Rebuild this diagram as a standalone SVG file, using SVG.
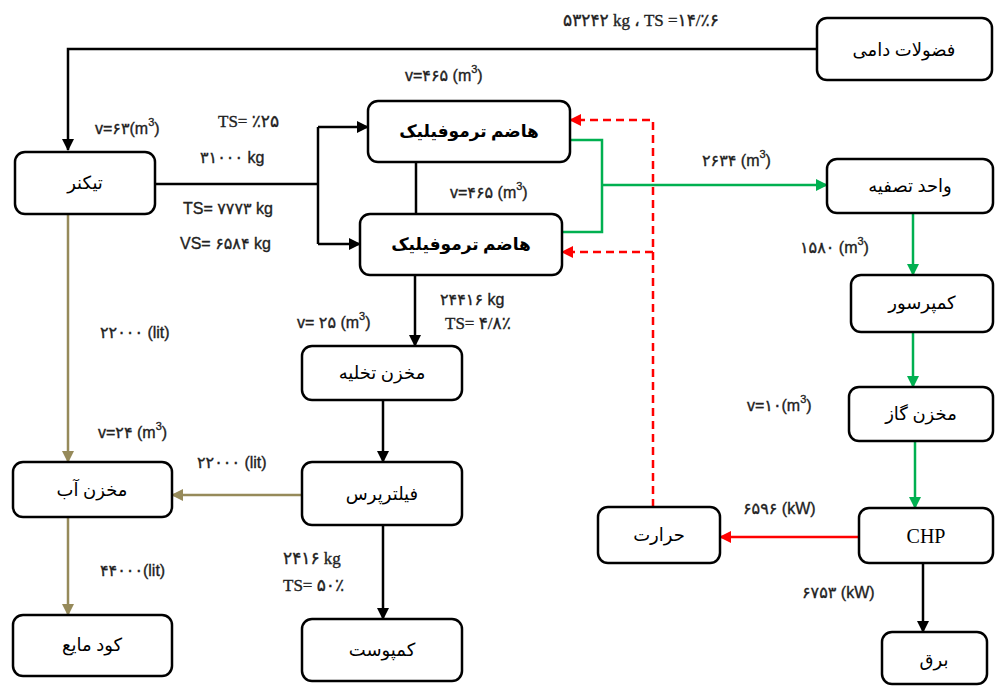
<svg xmlns="http://www.w3.org/2000/svg" width="995" height="686" viewBox="0 0 995 686">
<style>
.box{fill:#fff;stroke:#000;stroke-width:2.5}
.nt{font-family:"Liberation Serif","DejaVu Sans",serif;font-size:18px;text-anchor:middle;dominant-baseline:central;fill:#000}
.nb{font-weight:bold;font-size:17px}
.lb{font-family:"Liberation Sans","DejaVu Sans",sans-serif;font-size:16px;fill:#222;stroke:#222;stroke-width:0.35;dominant-baseline:central}
.ls{font-family:"Liberation Serif","DejaVu Sans",serif;font-size:17px;fill:#222;stroke:#222;stroke-width:0.35;dominant-baseline:central}
.sup{font-size:11px;baseline-shift:6px}
.k{fill:none;stroke:#000;stroke-width:2.5}
.o{fill:none;stroke:#968a5a;stroke-width:2.5}
.g{fill:none;stroke:#00b050;stroke-width:2.5}
.r{fill:none;stroke:#ff0000;stroke-width:2.5}
.rd{fill:none;stroke:#ff0000;stroke-width:2.5;stroke-dasharray:8,5}
</style>
<defs>
<marker id="ak" markerUnits="userSpaceOnUse" markerWidth="12" markerHeight="12" refX="11" refY="6" orient="auto"><path d="M0,0 L12,6 L0,12 z" fill="#000"/></marker>
<marker id="ao" markerUnits="userSpaceOnUse" markerWidth="12" markerHeight="12" refX="11" refY="6" orient="auto"><path d="M0,0 L12,6 L0,12 z" fill="#968a5a"/></marker>
<marker id="ag" markerUnits="userSpaceOnUse" markerWidth="12" markerHeight="12" refX="11" refY="6" orient="auto"><path d="M0,0 L12,6 L0,12 z" fill="#00b050"/></marker>
<marker id="ar" markerUnits="userSpaceOnUse" markerWidth="12" markerHeight="12" refX="11" refY="6" orient="auto"><path d="M0,0 L12,6 L0,12 z" fill="#ff0000"/></marker>
</defs>
<rect width="995" height="686" fill="#fff"/>
<g id="connectors">
<path class="k" d="M817,49 H68 V150" marker-end="url(#ak)"/>
<path class="k" d="M155,184 H318"/>
<path class="k" d="M318,127 V244"/>
<path class="k" d="M318,127 H368" marker-end="url(#ak)"/>
<path class="k" d="M318,244 H360" marker-end="url(#ak)"/>
<path class="k" d="M416,162 V214"/>
<path class="k" d="M415,275 V346" marker-end="url(#ak)"/>
<path class="k" d="M383,400 V462" marker-end="url(#ak)"/>
<path class="k" d="M383,525 V619" marker-end="url(#ak)"/>
<path class="o" d="M302,495 H172" marker-end="url(#ao)"/>
<path class="o" d="M68,214 V462" marker-end="url(#ao)"/>
<path class="o" d="M68,517 V615" marker-end="url(#ao)"/>
<path class="g" d="M570,140 H602 V232 H562"/>
<path class="g" d="M602,185 H827" marker-end="url(#ag)"/>
<path class="g" d="M913,213 V275" marker-end="url(#ag)"/>
<path class="g" d="M913,332 V387" marker-end="url(#ag)"/>
<path class="g" d="M915,441 V508" marker-end="url(#ag)"/>
<path class="r" d="M859,537 H720" marker-end="url(#ar)"/>
<path class="k" d="M923,563 V632" marker-end="url(#ak)"/>
<path class="rd" d="M653,507 V120 H570" marker-end="url(#ar)"/>
<path class="rd" d="M653,252 H562" marker-end="url(#ar)"/>
</g>
<g id="n_fazolat"><rect class="box" x="817" y="18" width="175" height="62" rx="10"/><text class="nt" x="904" y="50">فضولات دامی</text></g>
<g id="n_thickener"><rect class="box" x="15" y="152" width="140" height="62" rx="10"/><text class="nt" x="85" y="183">تیکنر</text></g>
<g id="n_digester1"><rect class="box" x="368" y="101" width="202" height="61" rx="10"/><text class="nt nb" x="469" y="131">هاضم ترموفیلیک</text></g>
<g id="n_digester2"><rect class="box" x="360" y="214" width="202" height="61" rx="10"/><text class="nt nb" x="461" y="244">هاضم ترموفیلیک</text></g>
<g id="n_tasfie"><rect class="box" x="827" y="159" width="166" height="54" rx="10"/><text class="nt" x="910" y="186">واحد تصفیه</text></g>
<g id="n_compressor"><rect class="box" x="851" y="275" width="142" height="57" rx="10"/><text class="nt" x="922" y="303">کمپرسور</text></g>
<g id="n_gas"><rect class="box" x="849" y="387" width="144" height="54" rx="10"/><text class="nt" x="921" y="414">مخزن گاز</text></g>
<g id="n_chp"><rect class="box" x="859" y="508" width="134" height="55" rx="10"/><text class="nt" x="926" y="536" style="font-size:20px">CHP</text></g>
<g id="n_heat"><rect class="box" x="598" y="507" width="122" height="56" rx="10"/><text class="nt" x="659" y="535">حرارت</text></g>
<g id="n_barq"><rect class="box" x="882" y="632" width="105" height="52" rx="10"/><text class="nt" x="934" y="660">برق</text></g>
<g id="n_takhlie"><rect class="box" x="302" y="346" width="160" height="54" rx="10"/><text class="nt" x="382" y="373">مخزن تخلیه</text></g>
<g id="n_filter"><rect class="box" x="302" y="462" width="160" height="63" rx="10"/><text class="nt" x="382" y="494">فیلترپرس</text></g>
<g id="n_water"><rect class="box" x="13" y="462" width="159" height="55" rx="10"/><text class="nt" x="92" y="490">مخزن آب</text></g>
<g id="n_kood"><rect class="box" x="13" y="615" width="159" height="61" rx="10"/><text class="nt" x="92" y="645">کود مایع</text></g>
<g id="n_compost"><rect class="box" x="302" y="619" width="160" height="62" rx="10"/><text class="nt" x="382" y="650">کمپوست</text></g>
<g id="labels">
<text class="ls" x="563" y="20">۵۳۲۴۲ kg ، TS =۱۴/٪۶</text>
<text class="lb" x="95" y="128">v=۶۳(m<tspan class="sup">3</tspan>)</text>
<text class="ls" x="218" y="121">TS= ٪۲۵</text>
<text class="lb" x="200" y="157">۳۱۰۰۰ kg</text>
<text class="lb" x="183" y="208">TS= ۷۷۷۳ kg</text>
<text class="lb" x="180" y="243">VS= ۶۵۸۴ kg</text>
<text class="lb" x="405" y="75">v=۴۶۵ (m<tspan class="sup">3</tspan>)</text>
<text class="lb" x="450" y="192">v=۴۶۵ (m<tspan class="sup">3</tspan>)</text>
<text class="lb" x="702" y="160">۲۶۳۴ (m<tspan class="sup">3</tspan>)</text>
<text class="lb" x="800" y="247">۱۵۸۰ (m<tspan class="sup">3</tspan>)</text>
<text class="lb" x="747" y="405">v=۱۰(m<tspan class="sup">3</tspan>)</text>
<text class="lb" x="743" y="508">۶۵۹۶ (kW)</text>
<text class="lb" x="802" y="592">۶۷۵۳ (kW)</text>
<text class="lb" x="440" y="299">۲۴۴۱۶ kg</text>
<text class="ls" x="445" y="323">TS= ۴/۸٪</text>
<text class="lb" x="297" y="322">v= ۲۵ (m<tspan class="sup">3</tspan>)</text>
<text class="lb" x="100" y="332">۲۲۰۰۰ (lit)</text>
<text class="lb" x="98" y="432">v=۲۴ (m<tspan class="sup">3</tspan>)</text>
<text class="lb" x="197" y="462">۲۲۰۰۰ (lit)</text>
<text class="lb" x="100" y="570">۴۴۰۰۰(lit)</text>
<text class="ls" x="283" y="558">۲۴۱۶ kg</text>
<text class="ls" x="283" y="585">TS= ۵۰٪</text>
</g>
</svg>
